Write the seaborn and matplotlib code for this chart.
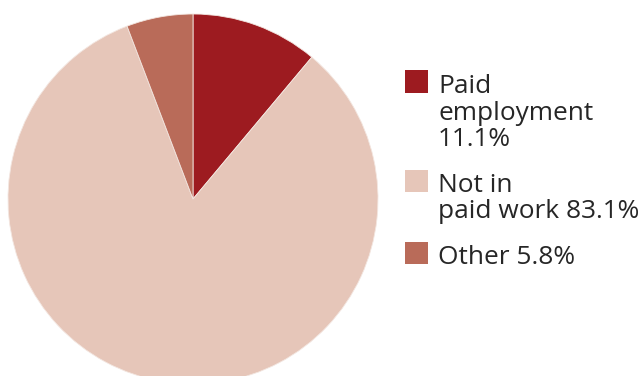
import matplotlib
matplotlib.use("Agg")
import matplotlib.pyplot as plt
import seaborn as sns
from matplotlib.patches import Rectangle

sns.set_theme(style="white")
plt.rcParams["font.family"] = ["Open Sans", "DejaVu Sans"]

# Share of people by activity
categories = ["Paid employment", "Not in paid work", "Other"]
shares = [11.1, 83.1, 5.8]
legend_lines = [["Paid", "employment", "11.1%"],
                ["Not in", "paid work 83.1%"],
                ["Other 5.8%"]]
colors = ["#9d1b20", "#e6c6b9", "#b96b59"]

W, H = 644, 376
fig = plt.figure(figsize=(W / 100, H / 100), dpi=100)

# Pie axes: square in pixels, centred at (193, 199) with radius 185
cx, cy, r = 193, 199, 185
ax = fig.add_axes([(cx - r) / W, (H - cy - r) / H, 2 * r / W, 2 * r / H])
ax.pie(shares, colors=colors, startangle=90, counterclock=False,
       wedgeprops=dict(linewidth=0.6, edgecolor="#f3e6e0"))
ax.set_xlim(-1, 1)
ax.set_ylim(-1, 1)
ax.set_aspect("auto")
ax.axis("off")

# Legend drawn by hand: square swatch + wrapped label lines
box_x, box_size = 405, 22.5
text_x = 438
first_baselines = [93, 192, 264]
line_step = 26.5
for col, lines, base in zip(colors, legend_lines, first_baselines):
    fig.patches.append(Rectangle((box_x / W, (H - base) / H), box_size / W, box_size / H,
                                 transform=fig.transFigure, facecolor=col, edgecolor="none"))
    for i, ln in enumerate(lines):
        y = base + i * line_step
        fig.text(text_x / W, (H - y) / H, ln, fontsize=18.9, color="#262626",
                 ha="left", va="baseline")

fig.savefig("out.png", dpi=100)
